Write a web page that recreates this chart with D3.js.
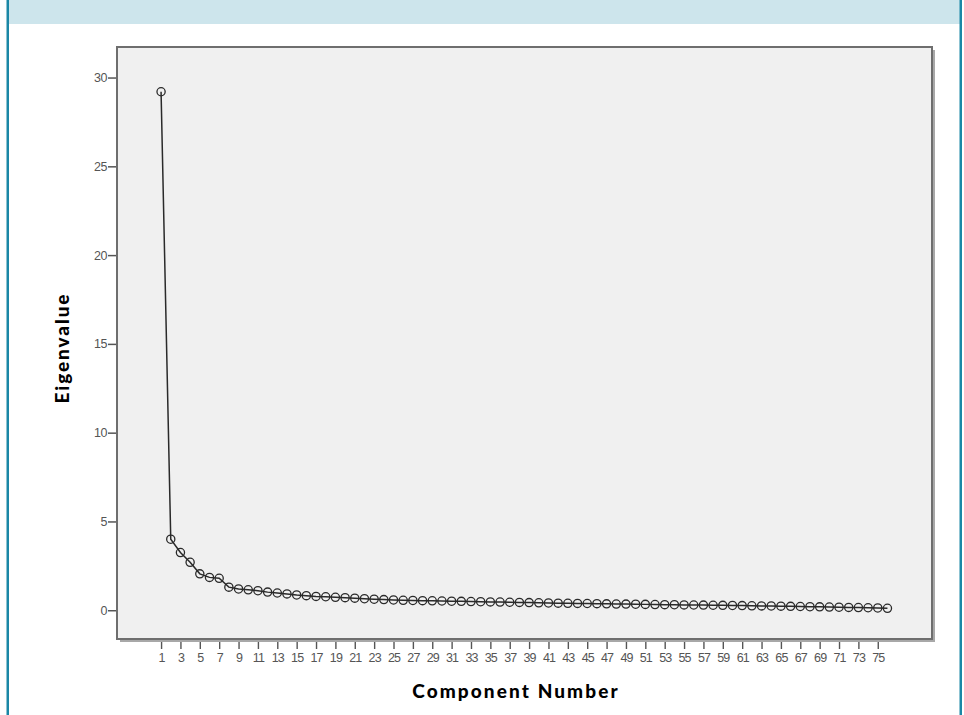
<!DOCTYPE html>
<html>
<head>
<meta charset="utf-8">
<script src="https://cdn.jsdelivr.net/npm/d3@7"></script>
<style>
  body { margin: 0; background: #fff; }
  svg { display: block; }
</style>
</head>
<body>
<div id="chart"></div>
<script>
// component numbers and eigenvalues
var components = d3.range(1, 77);
var eigenvalues = [
  29.2, 4.0, 3.25, 2.7, 2.05, 1.85, 1.8, 1.3, 1.2, 1.15,
  1.1, 1.02, 0.97, 0.92, 0.86, 0.82, 0.78, 0.76, 0.73, 0.71,
  0.68, 0.65, 0.62, 0.6, 0.58, 0.56, 0.55, 0.54, 0.53, 0.52,
  0.51, 0.5, 0.49, 0.48, 0.47, 0.46, 0.45, 0.44, 0.43, 0.42,
  0.41, 0.4, 0.39, 0.385, 0.38, 0.37, 0.36, 0.35, 0.345, 0.34,
  0.33, 0.32, 0.315, 0.31, 0.3, 0.295, 0.29, 0.28, 0.275, 0.27,
  0.26, 0.25, 0.245, 0.24, 0.23, 0.22, 0.21, 0.2, 0.19, 0.18,
  0.17, 0.16, 0.15, 0.14, 0.13, 0.11
];
var xTickLabels = d3.range(1, 76, 2);
var yTickLabels = [0, 5, 10, 15, 20, 25, 30];

var W = 964, H = 715;
// plot frame
var frame = {left: 117, top: 47, right: 932, bottom: 639};

var svg = d3.select("#chart").append("svg")
    .attr("width", W)
    .attr("height", H);

// page decoration: header band and side borders
svg.append("rect").attr("x", 8).attr("y", 0).attr("width", 952).attr("height", 24)
    .attr("fill", "#cde5ec");
svg.append("rect").attr("x", 6.5).attr("y", 0).attr("width", 2.5).attr("height", H)
    .attr("fill", "#1a87a6");
svg.append("rect").attr("x", 959.5).attr("y", 0).attr("width", 2.5).attr("height", H)
    .attr("fill", "#1a87a6");

// scales
var x = d3.scaleLinear().domain([-3.55, 80.6]).range([frame.left, frame.right]);
var y = d3.scaleLinear().domain([-1.62, 31.72]).range([frame.bottom, frame.top]);

// frame with shadow
svg.append("rect")
    .attr("x", frame.left + 3).attr("y", frame.top + 3)
    .attr("width", frame.right - frame.left).attr("height", frame.bottom - frame.top)
    .attr("fill", "#a8a8a8");
svg.append("rect")
    .attr("x", frame.left).attr("y", frame.top)
    .attr("width", frame.right - frame.left).attr("height", frame.bottom - frame.top)
    .attr("fill", "#f0f0f0")
    .attr("stroke", "#6e6e6e")
    .attr("stroke-width", 2);

// Y axis
var yAxis = svg.append("g")
    .attr("transform", "translate(" + (frame.left - 1) + ",0)")
    .call(d3.axisLeft(y).tickValues(yTickLabels).tickSize(8).tickPadding(1));
yAxis.select(".domain").remove();
yAxis.selectAll("line").attr("stroke", "#555").attr("stroke-width", 1.5);
yAxis.selectAll("text")
    .attr("fill", "#555")
    .style("font-family", "'Liberation Sans', sans-serif")
    .style("font-size", "12.5px")
    .style("letter-spacing", "-0.5px");

// X axis
var xAxis = svg.append("g")
    .attr("transform", "translate(0," + (frame.bottom + 3) + ")")
    .call(d3.axisBottom(x).tickValues(xTickLabels).tickSize(7).tickPadding(4));
xAxis.select(".domain").remove();
xAxis.selectAll("line").attr("stroke", "#555").attr("stroke-width", 1.4);
xAxis.selectAll("text")
    .attr("fill", "#555")
    .style("font-family", "'Liberation Sans', sans-serif")
    .style("font-size", "12.5px")
    .style("letter-spacing", "-0.9px");

// line
var data = components.map(function(c, i) { return {c: c, v: eigenvalues[i]}; });
var valueline = d3.line()
    .x(function(d) { return x(d.c); })
    .y(function(d) { return y(d.v); });

svg.append("path")
    .datum(data)
    .attr("fill", "none")
    .attr("stroke", "#2a2a2a")
    .attr("stroke-width", 1.5)
    .attr("d", valueline);

// markers
svg.selectAll("circle.pt")
    .data(data)
  .enter().append("circle")
    .attr("class", "pt")
    .attr("cx", function(d) { return x(d.c); })
    .attr("cy", function(d) { return y(d.v); })
    .attr("r", 4.1)
    .attr("fill", "none")
    .attr("stroke", "#2a2a2a")
    .attr("stroke-width", 1.3);

// axis titles
svg.append("text")
    .attr("x", 516).attr("y", 698)
    .attr("text-anchor", "middle")
    .style("font-family", "Lato, 'Open Sans', sans-serif")
    .style("font-weight", "900")
    .style("font-size", "19px")
    .style("letter-spacing", "2.1px")
    .text("Component Number");

svg.append("text")
    .attr("transform", "translate(69,348) rotate(-90)")
    .attr("text-anchor", "middle")
    .style("font-family", "Lato, 'Open Sans', sans-serif")
    .style("font-weight", "900")
    .style("font-size", "19px")
    .style("letter-spacing", "1.9px")
    .text("Eigenvalue");
</script>
</body>
</html>
